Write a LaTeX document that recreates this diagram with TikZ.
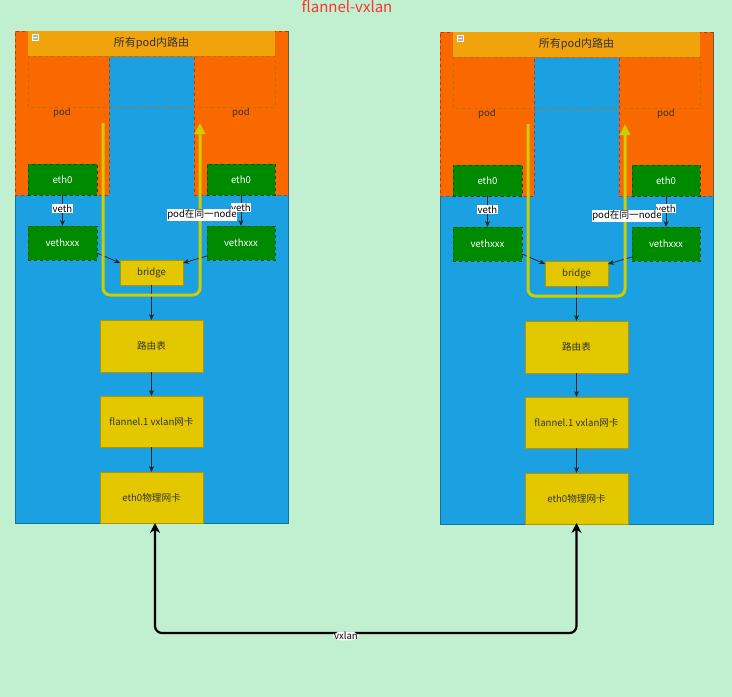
\documentclass[tikz,border=0pt]{standalone}
\usepackage{fontspec}
\setmainfont{Noto Sans CJK SC}
\usetikzlibrary{arrows.meta}
\definecolor{bgc}{HTML}{C0F0D0}
\definecolor{bluec}{HTML}{1BA1E2}
\definecolor{blueb}{HTML}{10739E}
\definecolor{orangec}{HTML}{FA6800}
\definecolor{orangeb}{HTML}{C73500}
\definecolor{headc}{HTML}{F0A30A}
\definecolor{headb}{HTML}{BD7000}
\definecolor{greenc}{HTML}{008A00}
\definecolor{greenb}{HTML}{005700}
\definecolor{yelc}{HTML}{E3C800}
\definecolor{yelb}{HTML}{B09500}
\definecolor{uline}{HTML}{CDCD00}
\definecolor{txt}{HTML}{333333}
\tikzset{
  base/.style={inner sep=0pt, outer sep=0pt, font=\fontsize{9.6}{11}\selectfont},
  panel/.style={base, fill=bluec, draw=blueb, line width=0.8pt},
  podbox/.style={base, fill=orangec, draw=orangeb, dashed, line width=0.5pt, text=txt},
  headbox/.style={base, fill=headc, text=txt, font=\fontsize{11}{13}\selectfont},
  grp/.style={draw=headb, dashed, line width=0.5pt},
  gbox/.style={base, fill=greenc, draw=greenb, dashed, line width=0.6pt, text=white},
  ybox/.style={base, fill=yelc, draw=yelb, line width=0.6pt, text=txt},
  arr/.style={draw=black!85, line width=0.8pt, -{Stealth[length=6pt,width=5pt]}},
  lbl/.style={base, fill=white, text=black, inner sep=0.6pt},
  upath/.style={draw=uline, line width=3pt, rounded corners=7pt, -{Triangle[length=11pt,width=10pt]}},
  vx/.style={draw=black, line width=2.2pt, rounded corners=7pt, {Stealth[length=10pt,width=10pt]}-{Stealth[length=10pt,width=10pt]}},
}
\begin{document}
\begin{tikzpicture}[x=1pt,y=-1pt]
\fill[bgc] (0,0) rectangle (732,697);
\useasboundingbox (0,0) rectangle (732,697);
\node[base, text={rgb,255:red,255;green,51;blue,51}, font=\fontsize{15}{17}\selectfont] (title) at (347,7) {flannel-vxlan};
\foreach \dx/\dy/\p in {0/0/L,425/1/R}{
\begin{scope}[shift={(\dx,\dy)}]
  \node[panel, minimum width=273pt, minimum height=492pt] (panel\p) at (151.5,277) {};
  \fill[orangec] (15,31.4) rectangle (287.6,57);
  \node[podbox, minimum width=94pt, minimum height=164pt] (podl\p) at (62,113) {pod};
  \node[podbox, minimum width=94pt, minimum height=164pt] (podr\p) at (241,113) {pod};
  \draw[grp] (28,56) rectangle (275,107);
  \node[headbox, minimum width=247pt, minimum height=25pt] (head\p) at (151.5,43.5) {所有pod内路由};
  \node[base, fill=gray!60, draw=white, line width=0.5pt, minimum size=6pt] (col\p) at (35,37.5) {};
  \draw[white, line width=0.8pt] ([xshift=-2pt]col\p.center) -- ([xshift=2pt]col\p.center);
  \node[gbox, minimum width=69pt, minimum height=31pt] (ethl\p) at (62.5,179.5) {eth0};
  \node[gbox, minimum width=68pt, minimum height=31pt] (ethr\p) at (241,179.5) {eth0};
  \node[gbox, minimum width=69pt, minimum height=34pt] (vethl\p) at (62.5,243) {vethxxx};
  \node[gbox, minimum width=68pt, minimum height=34pt] (vethr\p) at (241,243) {vethxxx};
  \node[ybox, minimum width=63pt, minimum height=25pt] (bridge\p) at (151.5,272.5) {bridge};
  \node[ybox, minimum width=103pt, minimum height=52pt] (route\p) at (151.5,346) {路由表};
  \node[ybox, minimum width=103pt, minimum height=51pt] (flan\p) at (151.5,421.5) {flannel.1 vxlan网卡};
  \node[ybox, minimum width=103pt, minimum height=51pt] (phys\p) at (151.5,497.5) {eth0物理网卡};
  \draw[arr] (ethl\p) -- node[lbl, pos=0.45] {veth} (vethl\p);
  \draw[arr] (ethr\p) -- node[lbl, pos=0.4] {veth} (vethr\p);
  \draw[arr] ([yshift=-10pt]vethl\p.east) -- ([yshift=-3pt]bridge\p.north west);
  \draw[arr] ([yshift=-13pt]vethr\p.west) -- ([yshift=-3pt]bridge\p.north east);
  \draw[arr] (bridge\p) -- (route\p);
  \draw[arr] (route\p) -- (flan\p);
  \draw[arr] (flan\p) -- (phys\p);
  \coordinate (us\p) at (103,123);
  \coordinate (ue\p) at (200,123);
  \draw[upath] (us\p) -- (103,295) -- (200,295) -- (ue\p);
  \node[lbl] (same\p) at (202,215) {pod在同一node};
\end{scope}
}
\draw[vx] ([xshift=3.5pt]physL.south) -- ++(0,110) -- node[lbl, pos=0.453, yshift=-3pt] {vxlan} ++(421.5,0) -- ([yshift=1pt]physR.south);
\end{tikzpicture}
\end{document}
